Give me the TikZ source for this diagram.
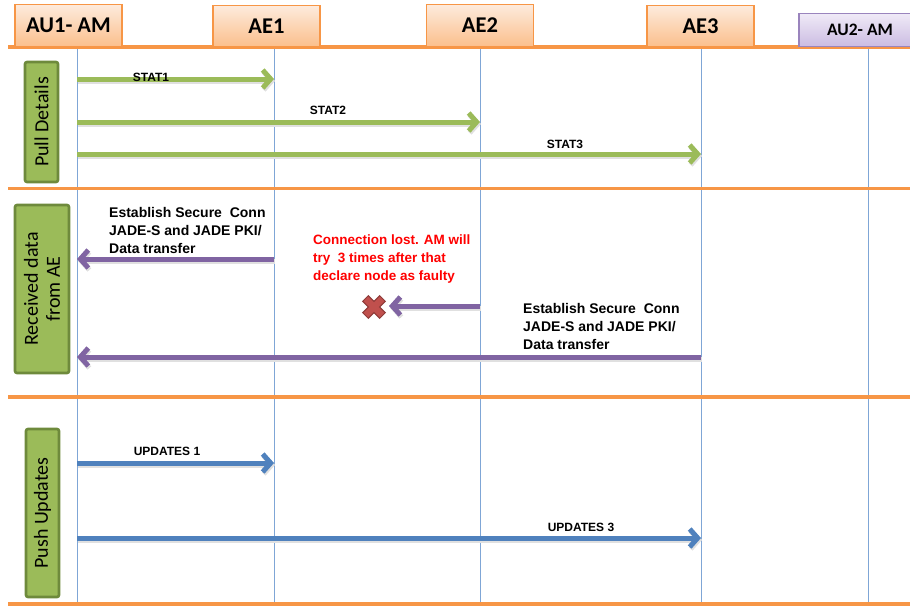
\documentclass[tikz,border=0pt]{standalone}
\usepackage{fontspec}
\setmainfont{Liberation Sans}
\newfontfamily\calibri{Carlito}
\usetikzlibrary{arrows.meta}

\definecolor{hdrline}{HTML}{F79646}
\definecolor{hdrtop}{HTML}{FDEBDD}
\definecolor{hdrbot}{HTML}{FBBF8C}
\definecolor{autop}{HTML}{F0EAF7}
\definecolor{aubot}{HTML}{CBBCE2}
\definecolor{auline}{HTML}{9A84BD}
\definecolor{lifeblue}{HTML}{7FA6D6}
\definecolor{statgreen}{HTML}{9BBB59}
\definecolor{phaseedge}{HTML}{6E8A3C}
\definecolor{msgpurple}{HTML}{8064A2}
\definecolor{msgblue}{HTML}{4F81BD}
\definecolor{crossfill}{HTML}{C0504D}
\definecolor{crossedge}{HTML}{8E3B39}

\tikzset{
  hdr/.style={draw=hdrline, line width=1.2pt, top color=hdrtop, bottom color=hdrbot,
    minimum width=107pt, anchor=south, inner sep=0pt,
    font=\calibri\bfseries\fontsize{22.5}{24}\selectfont},
  aubox/.style={hdr, draw=auline, top color=autop, bottom color=aubot,
    font=\calibri\bfseries\fontsize{17.5}{20}\selectfont},
  phase/.style={draw=phaseedge, line width=2.6pt, fill=statgreen, rounded corners=2pt,
    rotate=90, inner sep=0pt, align=center,
    font=\calibri\fontsize{20}{22}\selectfont},
  lifeline/.style={draw=lifeblue, line width=1pt},
  divider/.style={draw=hdrline, line width=3.5pt},
  msg/.style={line width=5pt, -{Straight Barb[length=8pt,width=18pt]},
    preaction={draw=black!12, line width=5pt, transform canvas={shift={(1pt,-2pt)}}}},
  tag/.style={font=\bfseries\fontsize{12}{13}\selectfont, inner sep=0pt},
  note/.style={font=\bfseries\fontsize{14}{18}\selectfont, align=left, anchor=north west, inner sep=0pt},
}

\begin{document}
\begin{tikzpicture}[x=1pt, y=-1pt]
\useasboundingbox (0,0) rectangle (910,605);
\clip (0,0) rectangle (910,605);

% lifelines
\coordinate (l1) at (77,47);  \coordinate (l1e) at (77,605);
\coordinate (l2) at (274,47); \coordinate (l2e) at (274,605);
\coordinate (l3) at (480,47); \coordinate (l3e) at (480,605);
\coordinate (l4) at (701,47); \coordinate (l4e) at (701,605);
\coordinate (l5) at (868,47); \coordinate (l5e) at (868,605);
\foreach \a/\b in {l1/l1e,l2/l2e,l3/l3e,l4/l4e,l5/l5e}
  \draw[lifeline] (\a) -- (\b);

% phase dividers
\draw[divider] (8,47) -- (910,47);
\draw[divider] (8,188.5) -- (910,188.5);
\draw[divider] (8,397) -- (910,397);
\draw[divider] (8,604) -- (910,604);

% participants
\node[hdr, minimum height=42pt] (au1) at (68.5,47) {AU1- AM};
\node[hdr, minimum height=41pt] (ae1) at (266.5,47) {AE1};
\node[hdr, minimum height=42pt] (ae2) at (480,47) {AE2};
\node[hdr, minimum height=41pt] (ae3) at (700.5,47) {AE3};
\node[aubox, minimum height=33pt, minimum width=122pt] (au2) at (860,47) {AU2- AM};

% phase labels
\node[phase, minimum width=120pt, minimum height=33pt] (pull) at (41.5,122) {Pull Details};
\node[phase, minimum width=168pt, minimum height=54pt] (recv) at (42,289) {Received data\\from AE};
\node[phase, minimum width=168pt, minimum height=33pt] (push) at (42.5,513) {Push Updates};

% message rows
\coordinate (r1) at (0,79);
\coordinate (r2) at (0,122);
\coordinate (r3) at (0,154);
\coordinate (r4) at (0,259);
\coordinate (r5) at (0,306);
\coordinate (r6) at (0,357);
\coordinate (r7) at (0,463);
\coordinate (r8) at (0,538);

% pull details
\draw[msg, statgreen] (l1 |- r1) -- (l2 |- r1);
\draw[msg, statgreen] (l1 |- r2) -- (l3 |- r2);
\draw[msg, statgreen] (l1 |- r3) -- (l4 |- r3);
\node[tag] (t1) at (151,77) {STAT1};
\node[tag] (t2) at (328,110) {STAT2};
\node[tag] (t3) at (565,144) {STAT3};

% received data
\draw[msg, msgpurple] (l2 |- r4) -- (l1 |- r4);
\node[note] (n1) at (109,207) {Establish Secure\ \ Conn\\JADE-S and JADE PKI/\\Data transfer};

\node[note, text=red, font=\bfseries\fontsize{13.5}{18}\selectfont] (n2) at (313,235)
  {Connection lost. AM\ will\\try\ \ 3 times after that\\declare node as faulty};

% failed connection marker
\begin{scope}[shift={(374,307)}, rotate=45]
  \draw[crossedge, fill=crossfill, line width=1pt]
    (-4,-12) -- (4,-12) -- (4,-4) -- (12,-4) -- (12,4) -- (4,4) -- (4,12)
    -- (-4,12) -- (-4,4) -- (-12,4) -- (-12,-4) -- (-4,-4) -- cycle;
\end{scope}
\coordinate (fail) at (389,306);
\draw[msg, msgpurple] (l3 |- r5) -- (fail);

\draw[msg, msgpurple] (l4 |- r6) -- (l1 |- r6);
\node[note] (n3) at (523,303) {Establish Secure\ \ Conn\\JADE-S and JADE PKI/\\Data transfer};

% push updates
\draw[msg, msgblue] (l1 |- r7) -- (l2 |- r7);
\draw[msg, msgblue] (l1 |- r8) -- (l4 |- r8);
\node[tag] (u1) at (167,451) {UPDATES 1};
\node[tag] (u3) at (581,527) {UPDATES 3};
\end{tikzpicture}
\end{document}
